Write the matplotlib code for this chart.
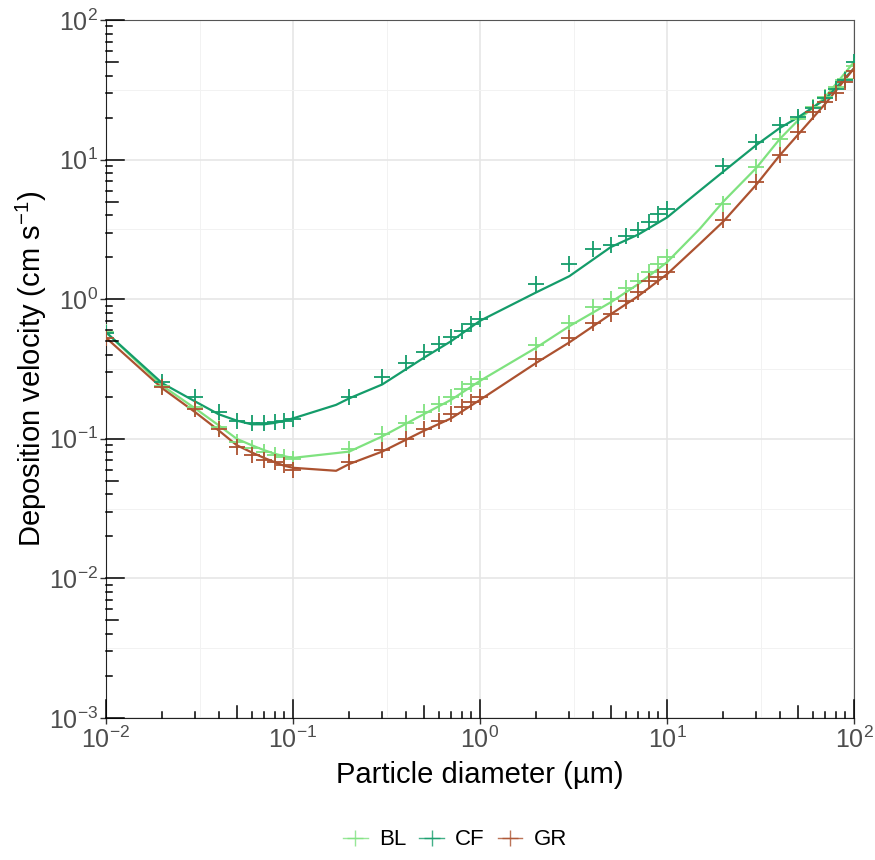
import matplotlib
matplotlib.use('Agg')
import matplotlib.pyplot as plt
from matplotlib.lines import Line2D
from matplotlib.ticker import FixedLocator, NullFormatter, FuncFormatter
import numpy as np

# particle diameters (um) where the measured points sit
x_pts = [0.01, 0.02, 0.03, 0.04, 0.05, 0.06, 0.07, 0.08, 0.09, 0.1,
         0.2, 0.3, 0.4, 0.5, 0.6, 0.7, 0.8, 0.9, 1,
         2, 3, 4, 5, 6, 7, 8, 9, 10,
         20, 30, 40, 50, 60, 70, 80, 90, 100]

bl_pts = [0.58, 0.238, 0.168, 0.121, 0.095, 0.086, 0.080, 0.076, 0.074, 0.072,
          0.084, 0.108, 0.129, 0.155, 0.177, 0.20, 0.229, 0.245, 0.27,
          0.47, 0.68, 0.88, 1.0, 1.2, 1.35, 1.56, 1.78, 2.0,
          4.8, 8.9, 14, 19.5, 24, 28, 33, 38, 47]
cf_pts = [0.57, 0.254, 0.199, 0.155, 0.134, 0.129, 0.129, 0.131, 0.134, 0.138,
          0.20, 0.276, 0.348, 0.417, 0.476, 0.54, 0.59, 0.66, 0.72,
          1.28, 1.78, 2.28, 2.44, 2.82, 3.12, 3.55, 4.06, 4.4,
          8.97, 13.3, 17.7, 20.2, 23.5, 27.6, 32, 37, 50]
gr_pts = [0.53, 0.235, 0.163, 0.117, 0.087, 0.077, 0.071, 0.068, 0.065, 0.060,
          0.068, 0.083, 0.10, 0.118, 0.135, 0.151, 0.17, 0.183, 0.20,
          0.37, 0.525, 0.68, 0.78, 0.97, 1.12, 1.35, 1.44, 1.56,
          3.7, 6.9, 10.7, 15.8, 22, 26, 30, 36, 43]

# model curves
x_line = [0.01, 0.02, 0.03, 0.04, 0.05, 0.06, 0.07, 0.08, 0.09, 0.1, 0.17, 0.2,
          0.3, 0.5, 0.7, 1, 2, 3, 5, 7, 10, 15, 20, 30, 40, 50, 70, 100]
bl_line = [0.58, 0.24, 0.165, 0.125, 0.10, 0.09, 0.083, 0.078, 0.075, 0.073, 0.079, 0.081,
           0.104, 0.15, 0.19, 0.26, 0.45, 0.64, 0.95, 1.28, 1.84, 3.2, 5.0, 8.7, 14, 19, 28, 50]
cf_line = [0.58, 0.25, 0.185, 0.15, 0.135, 0.127, 0.127, 0.13, 0.135, 0.14, 0.175, 0.195,
           0.245, 0.38, 0.50, 0.70, 1.12, 1.46, 2.36, 2.9, 3.85, 6.0, 8.2, 12.7, 16.8, 20, 27, 45]
gr_line = [0.53, 0.23, 0.155, 0.115, 0.09, 0.08, 0.073, 0.068, 0.064, 0.062, 0.059, 0.066,
           0.081, 0.114, 0.14, 0.19, 0.35, 0.49, 0.78, 1.05, 1.51, 2.5, 3.6, 6.6, 10.7, 15, 25, 45]

names = ['BL', 'CF', 'GR']
colors = ['#7fe27f', '#149c6a', '#ac5230']

plt.rcParams['font.family'] = ['Liberation Sans', 'DejaVu Sans']
plt.rcParams['mathtext.fontset'] = 'custom'
plt.rcParams['mathtext.rm'] = 'Liberation Sans'
plt.rcParams['mathtext.it'] = 'Liberation Sans'

fig = plt.figure(figsize=(8.75, 8.6), dpi=100)
ax_w, ax_h = 748, 698
ax = fig.add_axes([106 / 875, 1 - 718 / 860, ax_w / 875, ax_h / 860])
ax.set_xscale('log')
ax.set_yscale('log')
ax.set_xlim(1e-2, 1e2)
ax.set_ylim(1e-3, 1e2)

# grid: decades + half decades
ax.xaxis.set_major_locator(FixedLocator(10.0 ** np.arange(-2, 3)))
ax.yaxis.set_major_locator(FixedLocator(10.0 ** np.arange(-3, 3)))
ax.xaxis.set_minor_locator(FixedLocator(10.0 ** (np.arange(-2, 2) + 0.5)))
ax.yaxis.set_minor_locator(FixedLocator(10.0 ** (np.arange(-3, 2) + 0.5)))
ax.xaxis.set_minor_formatter(NullFormatter())
ax.yaxis.set_minor_formatter(NullFormatter())
fmt = FuncFormatter(lambda v, p: r'$10^{%d}$' % round(np.log10(v)))
ax.xaxis.set_major_formatter(fmt)
ax.yaxis.set_major_formatter(fmt)
ax.grid(which='major', color='#e6e6e6', lw=1.2)
ax.grid(which='minor', color='#f2f2f2', lw=0.7)
ax.set_axisbelow(True)
ax.tick_params(which='minor', length=0)
ax.tick_params(which='major', direction='out', length=4, width=1, color='#333333',
               labelsize=18, labelcolor='#4d4d4d', pad=2)

for side in ['left', 'bottom']:
    ax.spines[side].set_color('#222222')
for side in ['top', 'right']:
    ax.spines[side].set_color('#555555')

# log ticks inside the panel (long at 10^n, mid at 5*10^n)
for dec in range(-3, 3):
    for k in range(1, 10):
        L = 18 if k == 1 else (12 if k == 5 else 6)
        v = k * 10.0 ** dec
        if 1e-2 <= v <= 1e2:
            ax.plot([v, v], [0, L / ax_h], transform=ax.get_xaxis_transform(),
                    color='black', lw=1.1, clip_on=False, zorder=5)
        if 1e-3 <= v <= 1e2:
            ax.plot([0, L / ax_w], [v, v], transform=ax.get_yaxis_transform(),
                    color='black', lw=1.1, clip_on=False, zorder=5)

pts = [bl_pts, cf_pts, gr_pts]
lines = [bl_line, cf_line, gr_line]
for i in range(3):
    ax.plot(x_line, lines[i], color=colors[i], lw=1.6, zorder=3)
    ax.plot(x_pts, pts[i], ls='none', marker='+', ms=11, mew=1.3, color=colors[i], zorder=4)

ax.set_xlabel('Particle diameter (\u00b5m)', fontsize=21, labelpad=6)
ax.set_ylabel('Deposition velocity (cm s$^{-1}$)', fontsize=21, labelpad=0)

handles = [Line2D([], [], color=c, lw=1.0, marker='+', ms=12, mew=1.0, alpha=0.8) for c in colors]
fig.legend(handles, names, loc='lower center', bbox_to_anchor=(0.52, -0.012), ncol=3,
           frameon=False, fontsize=16, handlelength=1.1, handletextpad=0.5, columnspacing=0.6)

fig.savefig('out.png', dpi=100)
